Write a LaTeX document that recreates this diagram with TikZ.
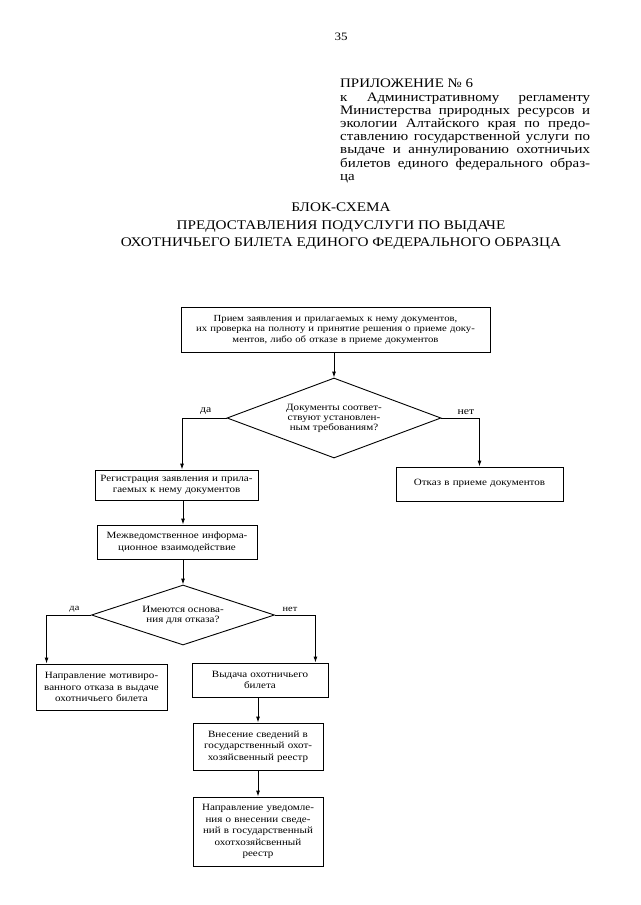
\documentclass[tikz,border=0pt]{standalone}
\usepackage{fontspec}
\setmainfont{Liberation Serif}[FakeStretch=1.15]
\usetikzlibrary{arrows.meta, positioning, shapes.geometric}
\newcommand\jline[1]{\makebox[250pt][s]{#1}}

\begin{document}
\begin{tikzpicture} [x=1pt, y=-1pt,
     N/.style = {draw, line width=0.9pt, inner sep=1pt, align=center,
                 font=\fontsize{9.6}{11.5}\selectfont},
     D/.style = {draw, shape=diamond, line width=0.9pt, inner sep=0pt, align=center,
                 font=\fontsize{9.6}{10}\selectfont},
     L/.style = {inner sep=0pt, font=\fontsize{10.2}{11}\selectfont},
   arr/.style = {draw, line width=0.9pt, -{Latex[length=6pt,width=4pt]}},
    every edge/.style={arr}
]
  \useasboundingbox (0,0) rectangle (640,905);

  % Page heading
  \node[font=\fontsize{11.3}{13}\selectfont] (page) at (341,37) {35};
  \node[anchor=north west, inner sep=0pt, align=left,
        font=\fontsize{13}{13.2}\selectfont] (annex) at (340,79)
    {ПРИЛОЖЕНИЕ № 6\\
     \jline{к Административному регламенту}\\
     \jline{Министерства природных ресурсов и}\\
     \jline{экологии Алтайского края по предо-}\\
     \jline{ставлению государственной услуги по}\\
     \jline{выдаче и аннулированию охотничьих}\\
     \jline{билетов единого федерального образ-}\\
     ца};
  \node[align=center, font=\fontsize{13.2}{17.5}\selectfont] (title) at (341,226.5)
    {БЛОК-СХЕМА\\
     ПРЕДОСТАВЛЕНИЯ ПОДУСЛУГИ ПО ВЫДАЧЕ\\
     ОХОТНИЧЬЕГО БИЛЕТА ЕДИНОГО ФЕДЕРАЛЬНОГО ОБРАЗЦА};

  % Nodes and Positions
  % LEVEL 0 (TOP)
  \node[N, minimum width=309, minimum height=45, text width=305,
        font=\fontsize{9.3}{10.5}\selectfont] (intake) at (335.5,329.5)
    {Прием заявления и прилагаемых к нему документов,\\
     их проверка на полноту и принятие решения о приеме доку-\\
     ментов, либо об отказе в приеме документов};
  \node[D, minimum width=214, minimum height=80, shape aspect=2.675] (docsok) at (334,418)
    {Документы соответ-\\ствуют установлен-\\ным требованиям?};

  % LEVEL -1
  \node[N, minimum width=163, minimum height=30, text width=159] (register) at (176.5,485)
    {Регистрация заявления и прила-\\гаемых к нему документов};
  \node[N, minimum width=167, minimum height=34, text width=163] (reject) at (479.5,484)
    {\raisebox{4pt}{Отказ в приеме документов}};
  \node[N, minimum width=160, minimum height=34, text width=156] (interact) at (177,542)
    {Межведомственное информа-\\ционное взаимодействие};
  \node[D, minimum width=183, minimum height=60, shape aspect=3.05] (grounds) at (183,615)
    {Имеются основа-\\ния для отказа?};

  % LEVEL -2
  \node[N, minimum width=131, minimum height=46, text width=127] (refusal) at (101.5,687)
    {Направление мотивиро-\\ванного отказа в выдаче\\охотничьего билета};
  \node[N, minimum width=136, minimum height=34, text width=132] (issue) at (260,680)
    {Выдача охотничьего\\билета};
  \node[N, minimum width=130, minimum height=47, text width=126] (entry) at (258,746.5)
    {Внесение сведений в\\государственный охот-\\хозяйсвенный реестр};
  \node[N, minimum width=130, minimum height=69, text width=126] (notice) at (258,831.5)
    {Направление уведомле-\\ния о внесении сведе-\\ний в государственный\\охотхозяйсвенный\\реестр};

  % Branch labels
  \node[L] (yes1) [above left =3pt and 15pt of docsok.west]  {да};
  \node[L] (no1)  [above right=3pt and 16pt of docsok.east]  {нет};
  \node[L, font=\fontsize{9}{10}\selectfont] (yes2) [above left =3pt and 11.5pt of grounds.west] {да};
  \node[L, font=\fontsize{9}{10}\selectfont] (no2)  [above right=3pt and 7.5pt of grounds.east]  {нет};

  % Edges
  \path (intake.south -| docsok.north) edge (docsok.north);
  \draw[arr] (docsok.west) -| ([xshift=5.5pt]register.north);
  \draw[arr] (docsok.east) -| (reject.north);

  \path (grounds.north |- register.south) edge (grounds.north |- interact.north);
  \path (grounds.north |- interact.south) edge (grounds.north);

  \draw[arr] (grounds.west) -| ([xshift=11pt]refusal.north west);
  \draw[arr] (grounds.east) -| ([xshift=-13pt]issue.north east);

  \path (entry.north |- issue.south) edge (entry.north);
  \path (entry) edge (notice);

\end{tikzpicture}
\end{document}
